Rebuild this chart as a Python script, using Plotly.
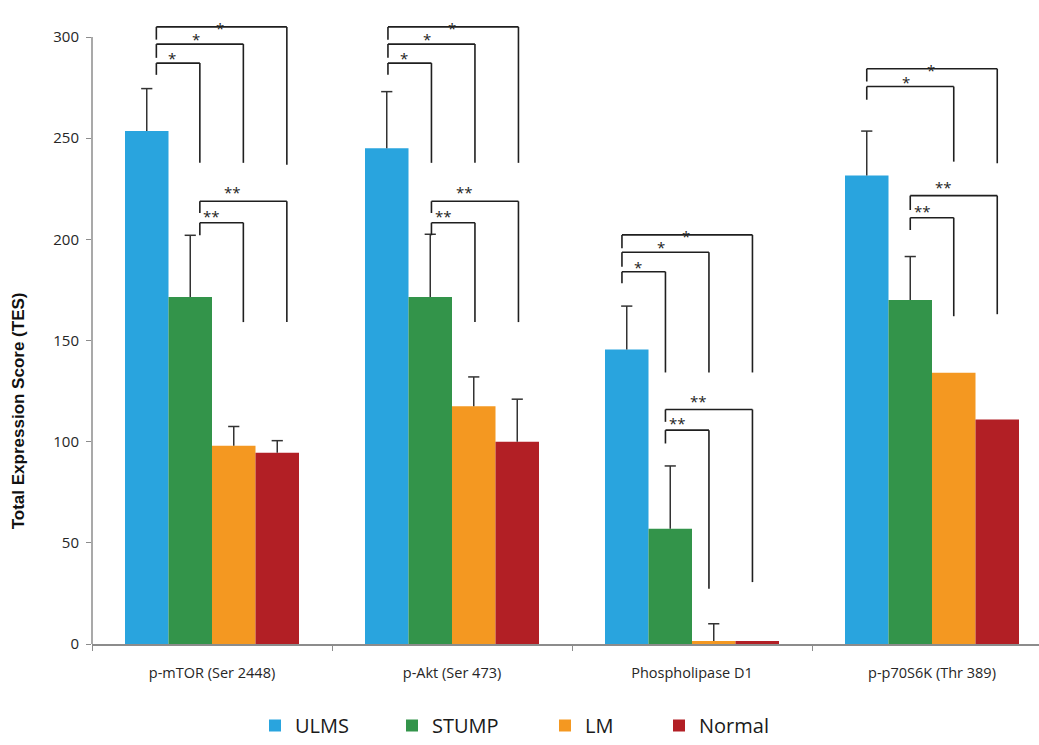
import numpy as np
import plotly.graph_objects as go

# ---------------- data ----------------
categories = ["p-mTOR (Ser 2448)", "p-Akt (Ser 473)", "Phospholipase D1", "p-p70S6K (Thr 389)"]
series_names = ["ULMS", "STUMP", "LM", "Normal"]

ulms = [253.5, 245.0, 145.5, 231.5]
stump = [171.5, 171.5, 57.0, 170.0]
lm = [98.0, 117.5, 1.5, 134.0]
normal = [94.5, 100.0, 1.5, 111.0]

ulms_err = [21.0, 28.0, 21.5, 22.0]
stump_err = [30.5, 31.0, 31.0, 21.5]
lm_err = [9.5, 14.5, 8.5, np.nan]
normal_err = [6.0, 21.0, np.nan, np.nan]

yticks = [0, 50, 100, 150, 200, 250, 300]

# significance brackets: (group, left bar, right bar, top, left end, right end, label)
brackets = [
    (0, 0, 1, 287.1, 281.3, 237.8, "*"),
    (0, 0, 2, 296.5, 289.7, 237.8, "*"),
    (0, 0, 3, 305.0, 298.7, 236.8, "*"),
    (0, 1, 2, 208.2, 202.0, 159.1, "**"),
    (0, 1, 3, 218.8, 213.0, 159.1, "**"),
    (1, 0, 1, 287.1, 281.3, 237.8, "*"),
    (1, 0, 2, 296.5, 289.7, 237.8, "*"),
    (1, 0, 3, 305.0, 298.7, 237.8, "*"),
    (1, 1, 2, 208.2, 202.0, 159.1, "**"),
    (1, 1, 3, 218.8, 213.0, 159.1, "**"),
    (2, 0, 1, 184.0, 178.3, 134.2, "*"),
    (2, 0, 2, 193.6, 186.5, 134.2, "*"),
    (2, 0, 3, 202.2, 195.6, 134.2, "*"),
    (2, 1, 2, 105.7, 99.1, 27.3, "**"),
    (2, 1, 3, 115.9, 109.8, 30.6, "**"),
    (3, 0, 2, 275.5, 269.0, 238.4, "*"),
    (3, 0, 3, 284.3, 278.0, 237.6, "*"),
    (3, 1, 2, 210.7, 204.6, 162.0, "**"),
    (3, 1, 3, 221.6, 214.5, 163.0, "**"),
]

# ---------------- style ----------------
colors = ["#29A4DE", "#33944A", "#F49821", "#B21F25"]
W, H = 1039, 745
L, R, T, B = 92, 0, 5, 101
BARGAP = 0.275
GROUP_PX = 240.0
plot_w = W - L - R
plot_h = H - T - B
px_per_unit = (644 - 37) / 300.0
y_top = plot_h / px_per_unit
x_max = -0.5 + plot_w / GROUP_PX
group_shift = [0.04, 0.005, -0.02, 0.0]
bar_w = (1 - BARGAP) / 4
label_off = {("*", 1): 10, ("*", 2): 10, ("*", 3): 4, ("**", 2): 12, ("**", 3): 14}
label_frac = {("*", 1): 0.36, ("*", 2): 0.45, ("*", 3): 0.49, ("**", 2): 0.27, ("**", 3): 0.38}
font_main = "Open Sans"

values = [ulms, stump, lm, normal]
errors = [ulms_err, stump_err, lm_err, normal_err]
legend_left_px = [255, 392, 545, 659]

fig = go.Figure()
for k, (name, vals, errs) in enumerate(zip(series_names, values, errors)):
    lg = "legend" if k == 0 else f"legend{k + 1}"
    fig.add_trace(go.Bar(
        x=categories, y=vals, name=name,
        marker=dict(color=colors[k], line=dict(width=0)),
        error_y=dict(type="data", array=np.array(errs, dtype=float), symmetric=False,
                     color="#333333", thickness=1.5, width=0),
        legend=lg,
    ))
# caps of the error bars
for k, (vals, errs) in enumerate(zip(values, errors)):
    caps = np.array(vals, dtype=float) + np.array(errs, dtype=float)
    fig.add_trace(go.Scatter(
        x=categories, y=caps, mode="markers", showlegend=False, hoverinfo="skip",
        marker=dict(symbol="line-ew", size=8, line=dict(width=1.5, color="#333333")),
    ))

shapes = []
annotations = []
line_style = dict(color="#1f1f1f", width=1.6)
for g, i, j, top, lb, rb, lab in brackets:
    xl = g + (i - 1.5) * bar_w + group_shift[g]
    xr = g + (j - 1.5) * bar_w + group_shift[g]
    for (x0, y0, x1, y1) in [(xl, lb, xl, top), (xl, top, xr, top), (xr, top, xr, rb)]:
        shapes.append(dict(type="line", xref="x", yref="y", x0=x0, y0=y0, x1=x1, y1=y1,
                           line=line_style, layer="above"))
    f = label_frac[(lab, j)]
    annotations.append(dict(
        x=xl + f * (xr - xl), y=top, xref="x", yref="y", text=lab, showarrow=False,
        yanchor="middle", yshift=label_off[(lab, j)] - 5,
        font=dict(family=font_main, size=15, color="#222222"),
    ))

# y-axis line only up to 300
shapes.append(dict(type="line", xref="paper", yref="y", x0=0, x1=0, y0=0, y1=300,
                   line=dict(color="#8c8c8c", width=1.5)))

annotations.append(dict(
    text="<b>Total Expression Score (TES)</b>", textangle=-90, showarrow=False,
    xref="paper", yref="y", x=0, xanchor="center", xshift=-74, y=115.0, yanchor="middle",
    font=dict(family="Liberation Sans", size=17, color="#111111"),
))

legend_common = dict(orientation="h", xanchor="left", yanchor="middle", y=-0.128,
                     font=dict(family=font_main, size=20, color="#1a1a1a"),
                     bgcolor="rgba(0,0,0,0)", itemwidth=30, borderwidth=0)
legends = {}
for k in range(4):
    key = "legend" if k == 0 else f"legend{k + 1}"
    legends[key] = dict(legend_common, x=(legend_left_px[k] - L) / plot_w)

fig.update_layout(
    width=W, height=H,
    margin=dict(l=L, r=R, t=T, b=B, pad=0),
    paper_bgcolor="white", plot_bgcolor="white",
    barmode="group", bargap=BARGAP, bargroupgap=0,
    scattermode="group", scattergap=BARGAP,
    xaxis=dict(
        type="category", range=[-0.5, x_max], showgrid=False, zeroline=False,
        showline=True, linecolor="#8c8c8c", linewidth=1.5,
        ticks="outside", tickson="boundaries", ticklen=5, tickcolor="#8c8c8c", tickwidth=1,
        tickfont=dict(family=font_main, size=14.5, color="#262626"), ticklabelstandoff=15,
    ),
    yaxis=dict(
        range=[0, y_top], tickvals=yticks, showgrid=False, zeroline=False, showline=False,
        ticks="outside", ticklen=5, tickcolor="#8c8c8c", tickwidth=1,
        tickfont=dict(family=font_main, size=15, color="#262626"), ticklabelstandoff=4,
    ),
    shapes=shapes, annotations=annotations,
    showlegend=True,
    **legends,
)

fig.write_html("out.html", config={"displayModeBar": False},
               post_script="document.body.style.margin='0';")
